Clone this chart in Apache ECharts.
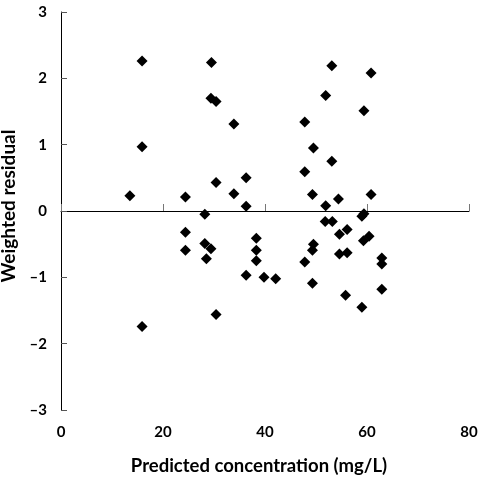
<!DOCTYPE html>
<html>
<head>
<meta charset="utf-8">
<script src="https://cdn.jsdelivr.net/npm/echarts@6/dist/echarts.min.js"></script>
<style>
html,body{margin:0;padding:0;background:#fff;}
#chart{width:482px;height:478px;}
</style>
</head>
<body>
<div id="chart"></div>
<script>
var xTicks = [0, 20, 40, 60, 80];
var yTicks = [-3, -2, -1, 0, 1, 2, 3];
var concentration = [13.5,15.9,15.9,15.9,24.4,24.4,24.4,28.2,28.2,29.4,28.5,29.5,29.4,30.4,33.9,30.4,33.9,36.3,36.3,30.4,36.3,38.3,38.3,38.3,39.8,42.1,47.8,49.5,47.8,49.3,47.8,49.3,49.3,49.5,53.1,60.8,51.9,59.4,53.1,54.4,60.8,51.9,59.0,59.4,51.8,53.2,54.6,56.1,59.3,60.4,54.6,56.1,62.9,62.9,62.9,55.8,59.0];
var residual = [0.23,2.26,0.97,-1.74,0.21,-0.32,-0.59,-0.05,-0.49,-0.57,-0.72,2.24,1.70,1.65,1.31,0.43,0.26,0.50,0.07,-1.56,-0.97,-0.41,-0.59,-0.75,-1.00,-1.02,1.34,0.95,0.59,0.25,-0.77,-1.09,-0.59,-0.50,2.19,2.08,1.74,1.51,0.75,0.18,0.25,0.08,-0.08,-0.04,-0.16,-0.16,-0.35,-0.28,-0.45,-0.38,-0.65,-0.63,-0.71,-0.80,-1.18,-1.27,-1.45];

var points = concentration.map(function(x, i){ return [x, residual[i]]; });
var FONT = 'Lato';
var chart = echarts.init(document.getElementById('chart'), null, {renderer:'canvas'});
chart.setOption({
  animation:false,
  backgroundColor:'#fff',
  grid:{left:61, right:13, top:12, bottom:68, containLabel:false, outerBoundsMode:'none'},
  xAxis:[{
    type:'value', position:'bottom', min:xTicks[0], max:xTicks[xTicks.length-1], interval:20,
    axisLine:{show:false, onZero:false}, axisTick:{show:false}, splitLine:{show:false},
    axisLabel:{margin:15, color:'#000', fontFamily:FONT, fontWeight:'bold', fontSize:15},
    name:'Predicted concentration (mg/L)', nameLocation:'middle', nameGap:47,
    nameTextStyle:{color:'#000', fontFamily:FONT, fontWeight:'bold', fontSize:18.5, padding:[0,12,0,0]}
  },{
    type:'value', position:'bottom', min:xTicks[0], max:xTicks[xTicks.length-1], interval:20,
    axisLine:{show:true, onZero:true, lineStyle:{color:'#000', width:1}},
    axisTick:{show:true, inside:true, length:7, lineStyle:{color:'#777'}},
    axisLabel:{show:false}, splitLine:{show:false}
  }],
  yAxis:{
    type:'value', min:yTicks[0], max:yTicks[yTicks.length-1], interval:1,
    axisLine:{show:true, lineStyle:{color:'#000', width:1}},
    axisTick:{show:true, inside:true, length:6, lineStyle:{color:'#555'}},
    splitLine:{show:false},
    axisLabel:{margin:14, color:'#000', fontFamily:FONT, fontWeight:'bold', fontSize:15,
      formatter:function(v){ return v < 0 ? '\u2013' + Math.abs(v) : String(v); }},
    name:'Weighted residual', nameLocation:'middle', nameGap:43, nameRotate:90,
    nameTextStyle:{color:'#000', fontFamily:FONT, fontWeight:'bold', fontSize:19, padding:[0,0,0,10]}
  },
  series:[{
    type:'scatter', xAxisIndex:0, data:points, symbol:'diamond', symbolSize:11,
    itemStyle:{color:'#000', opacity:1}
  }]
});
</script>
</body>
</html>
